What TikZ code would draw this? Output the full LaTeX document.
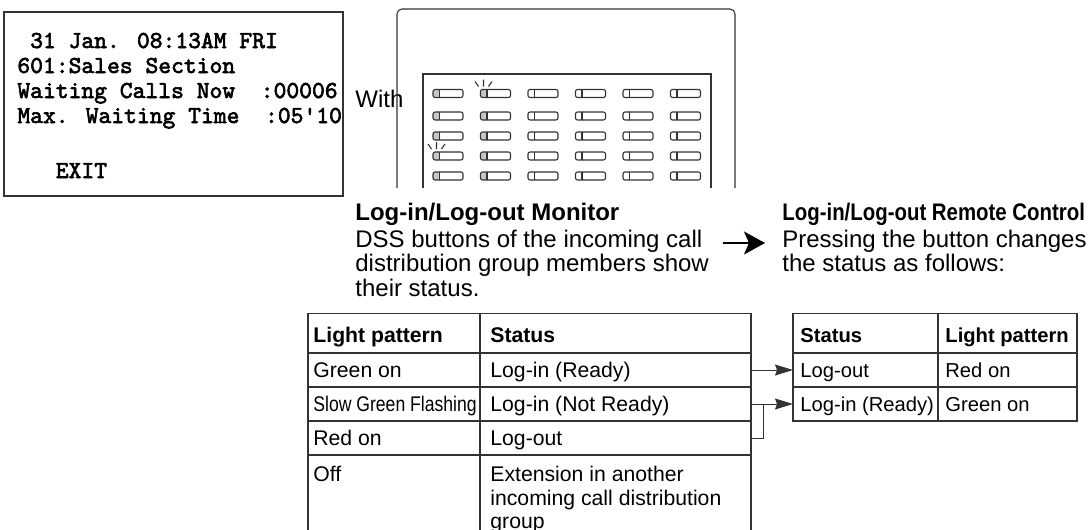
\documentclass[tikz,border=0pt]{standalone}
\usepackage{fontspec}
\setmainfont{Liberation Sans}
\newfontfamily\lcdfont{lmmono10-regular.otf}[FakeBold = 2.5]
\usepackage{graphicx}
\usetikzlibrary{arrows.meta}

\definecolor{lampgray}{gray}{0.78}
\definecolor{linecol}{gray}{0.2}

\begin{document}
\begin{tikzpicture}[x = 0.5pt, y = -0.5pt,
		boxline/.style = {draw = linecol, line width = 0.55pt},
		tabline/.style = {draw = linecol, line width = 0.7pt},
		lcd/.style = {anchor = base west, inner sep = 0pt, font = \lcdfont\bfseries\fontsize{12.2}{14}\selectfont},
		txt/.style = {anchor = base west, inner sep = 0pt, font = \fontsize{12}{12.25}\selectfont},
		para/.style = {anchor = north west, inner sep = 0pt, align = left, font = \fontsize{12}{12.25}\selectfont},
		cellA/.style = {anchor = west, inner sep = 0pt, text height = 7.6pt, text depth = 0pt, font = \fontsize{10.6}{11.75}\selectfont},
		headA/.style = {cellA, font = \bfseries\fontsize{10.6}{11.75}\selectfont},
		cellB/.style = {cellA, text height = 7.2pt, font = \fontsize{10.1}{11.75}\selectfont},
		headB/.style = {cellB, font = \bfseries\fontsize{10.1}{11.75}\selectfont},
		arrowbig/.style = {line width = 0.6pt, -{Stealth[length = 10.5pt, width = 11.5pt, inset = 2.5pt]}},
		arrowsmall/.style = {draw = linecol, line width = 0.5pt, -{Stealth[length = 9pt, width = 5.5pt, inset = 1pt]}}]
	
	\useasboundingbox (0,0) rectangle (1088,530);
	
	\draw[boxline] (4,12) rectangle (343,196);
	\foreach \y/\t [count = \i] in {48/{\phantom{0}31 Jan. 08:13AM FRI}, 73/{601:Sales Section}, 98/{Waiting Calls Now\ \ :00006}, 123/{Max. Waiting Time\ \ :05\textquotesingle10}, 178/{\phantom{000}EXIT}}
		\node[lcd] (lcd\i) at (17,\y) {\t};
	
	\node[txt] (with) at (355,107) {With};
	
	\draw[boxline, rounded corners = 2.5pt] (397,188) -- (397,9) -- (735,9) -- (735,188);
	\draw[boxline] (423,188) |- (711,74) -- (711,188);
	
	\foreach \c in {0,...,5}
		\foreach \r in {93.5,116,136,156,176} {
			\pgfmathsetmacro{\bx}{433+47.5*\c}
			\ifnum\c<2
				\fill[lampgray, rounded corners = 1pt] (\bx,\r-4) rectangle (\bx+7,\r+4);
			\fi
			\draw[boxline, rounded corners = 1pt] (\bx,\r-4) rectangle (\bx+30,\r+4);
			\draw[boxline] (\bx+6.5,\r-4) -- (\bx+6.5,\r+4);
		}
	
	\foreach \fx/\fy in {483.5/93.5, 436.5/156}
		\draw[boxline] (\fx,\fy-14) -- (\fx,\fy-7) (\fx-8.5,\fy-12) -- (\fx-5,\fy-7) (\fx+8.5,\fy-12) -- (\fx+5,\fy-7);
	
	\node[txt, font = \bfseries\fontsize{12}{14}\selectfont] (montitle) at (355,220) {Log-in/Log-out Monitor};
	\node[para] (montext) at (355,229.5) {DSS buttons of the incoming call\\distribution group members show\\their status.};
	\node[txt, font = \bfseries\fontsize{12}{14}\selectfont] (rctitle) at (782,220) {\scalebox{0.85}[1]{Log-in/Log-out Remote Control}};
	\node[para] (rctext) at (782,229.5) {Pressing the button changes\\the status as follows:};
	\draw[arrowbig] ([xshift = 6.6pt, yshift = -6.75pt]montext.north east) -- ([xshift = -8.5pt, yshift = -6.75pt]rctext.north west);
	
	\coordinate (t1r) at (751,313.5);
	\coordinate (t2l) at (793,313.5);
	\draw[tabline] (308,530) |- (t1r) -- (751,530);
	\draw[tabline] (480,313.5) -- (480,530);
	\foreach \y in {353,387,421,455}
		\draw[tabline] (308,\y) -- (751,\y);
	\draw[tabline] (t2l) rectangle (1077,421);
	\draw[tabline] (938,313.5) -- (938,421);
	\foreach \y in {353,387}
		\draw[tabline] (793,\y) -- (1077,\y);
	
	\node[headA] (lighthead) at (313,335) {Light pattern};
	\node[headA] (stathead) at (490,335) {Status};
	\node[cellA] (green) at (313,370) {Green on};
	\node[cellA] (ready) at (490,370) {Log-in (Ready)};
	\node[cellA] (slow) at (313,404) {\scalebox{0.83}[1]{Slow Green Flashing}};
	\node[cellA] (notready) at (490,404) {Log-in (Not Ready)};
	\node[cellA] (red) at (313,438) {Red on};
	\node[cellA] (logout) at (490,438) {Log-out};
	\node[cellA] (off) at (313,473.5) {Off};
	\node[anchor = north west, inner sep = 0pt, align = left, font = \fontsize{10.6}{11.75}\selectfont] (other) at (490,466) {Extension in another\\incoming call distribution\\group};
	
	\node[headB] (stathead2) at (800,335) {Status};
	\node[headB] (lighthead2) at (945,335) {Light pattern};
	\node[cellB] (outB) at (800,370) {Log-out};
	\node[cellB] (redB) at (945,370) {Red on};
	\node[cellB] (readyB) at (800,404) {Log-in (Ready)};
	\node[cellB] (greenB) at (945,404) {Green on};
	
	\draw[arrowsmall] (ready -| t1r) -- (outB -| t2l);
	\draw[arrowsmall] (notready -| t1r) -- (readyB -| t2l);
	\draw[draw = linecol, line width = 0.5pt] (logout -| t1r) -- ++(12,0) -- ++(0,-34);
	
\end{tikzpicture}
\end{document}
